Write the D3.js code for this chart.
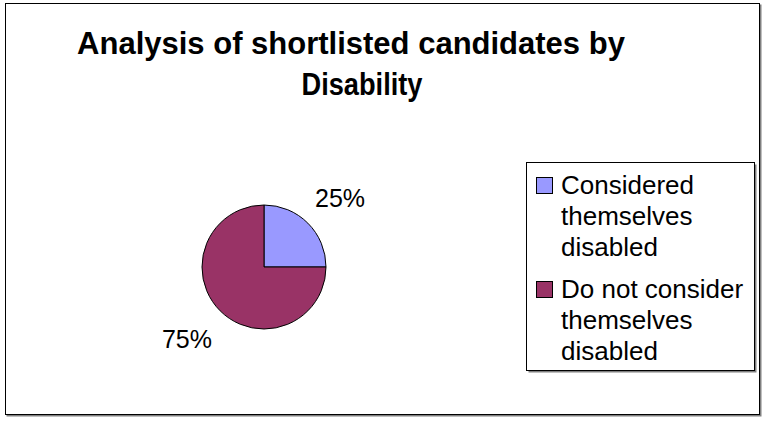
<!DOCTYPE html>
<meta charset="utf-8">
<style>

body {
  margin: 0;
  background: #fff;
}

text {
  font-family: "Liberation Sans", Arial, sans-serif;
  fill: #000;
}

</style>
<body>
<script src="https://cdn.jsdelivr.net/npm/d3@7"></script>
<script>

var categories = ["Considered themselves disabled", "Do not consider themselves disabled"],
    legendLines = [["Considered", "themselves", "disabled"], ["Do not consider", "themselves", "disabled"]],
    values = [25, 75],
    colors = ["#9999ff", "#993366"],
    titleLines = ["Analysis of shortlisted candidates by", "Disability"];

var w = 763,
    h = 421;

var svg = d3.select("body").append("svg")
    .attr("width", w)
    .attr("height", h);

// chart area frame with a little shadow
svg.append("rect")
    .attr("x", 6.5).attr("y", 4.5)
    .attr("width", 755).attr("height", 412)
    .style("fill", "#808080");
svg.append("rect")
    .attr("x", 5.5).attr("y", 3.5)
    .attr("width", 754).attr("height", 411)
    .style("fill", "#fff")
    .style("stroke", "#000")
    .style("stroke-width", 1);

// title
svg.append("text")
    .attr("text-anchor", "middle")
    .style("font-weight", "bold")
    .style("font-size", "31px")
  .selectAll("tspan")
    .data(titleLines)
  .enter().append("tspan")
    .attr("x", function(d, i) { return i ? 362 : 351; })
    .attr("y", function(d, i) { return 54 + i * 41; })
    .attr("textLength", function(d, i) { return i ? 121 : null; })
    .attr("lengthAdjust", "spacingAndGlyphs")
    .text(function(d) { return d; });

// pie
var cx = 264, cy = 267, r = 62;

var pie = d3.pie().sort(null).value(function(d) { return d; });
var arc = d3.arc().innerRadius(0).outerRadius(r);
var arcs = pie(values);

var g = svg.append("g")
    .attr("transform", "translate(" + cx + "," + cy + ")");

g.selectAll("path")
    .data(arcs)
  .enter().append("path")
    .attr("d", arc)
    .style("fill", function(d, i) { return colors[i]; })
    .style("stroke", "#000")
    .style("stroke-width", 1);

// data labels, placed outside the slices
var labelArc = d3.arc().innerRadius(r + 30).outerRadius(r + 30);
var labelOffsets = [[11, 5], [-12, 16]];

g.selectAll(".lbl")
    .data(arcs)
  .enter().append("text")
    .attr("class", "lbl")
    .attr("text-anchor", "middle")
    .style("font-size", "25px")
    .attr("transform", function(d, i) {
      var c = labelArc.centroid(d);
      return "translate(" + (c[0] + labelOffsets[i][0]) + "," + (c[1] + labelOffsets[i][1]) + ")";
    })
    .text(function(d) { return d3.format(".0%")(d.data / d3.sum(values)); });

// legend
var lx = 526, ly = 162, lw = 228, lh = 208;

svg.append("rect")
    .attr("x", lx + 2.5).attr("y", ly + 2.5)
    .attr("width", lw).attr("height", lh)
    .style("fill", "#808080");
svg.append("rect")
    .attr("x", lx + 0.5).attr("y", ly + 0.5)
    .attr("width", lw).attr("height", lh)
    .style("fill", "#fff")
    .style("stroke", "#000");

var item = svg.selectAll(".item")
    .data(categories)
  .enter().append("g")
    .attr("class", "item")
    .attr("transform", function(d, i) { return "translate(" + lx + "," + (ly + i * 104) + ")"; });

item.append("rect")
    .attr("x", 10.5).attr("y", 15.5)
    .attr("width", 16).attr("height", 16)
    .style("fill", function(d, i) { return colors[i]; })
    .style("stroke", "#000");

item.append("text")
    .style("font-size", "26px")
  .selectAll("tspan")
    .data(function(d, i) { return legendLines[i]; })
  .enter().append("tspan")
    .attr("x", 35)
    .attr("y", function(d, j) { return 32 + j * 31; })
    .text(function(d) { return d; });

</script>
